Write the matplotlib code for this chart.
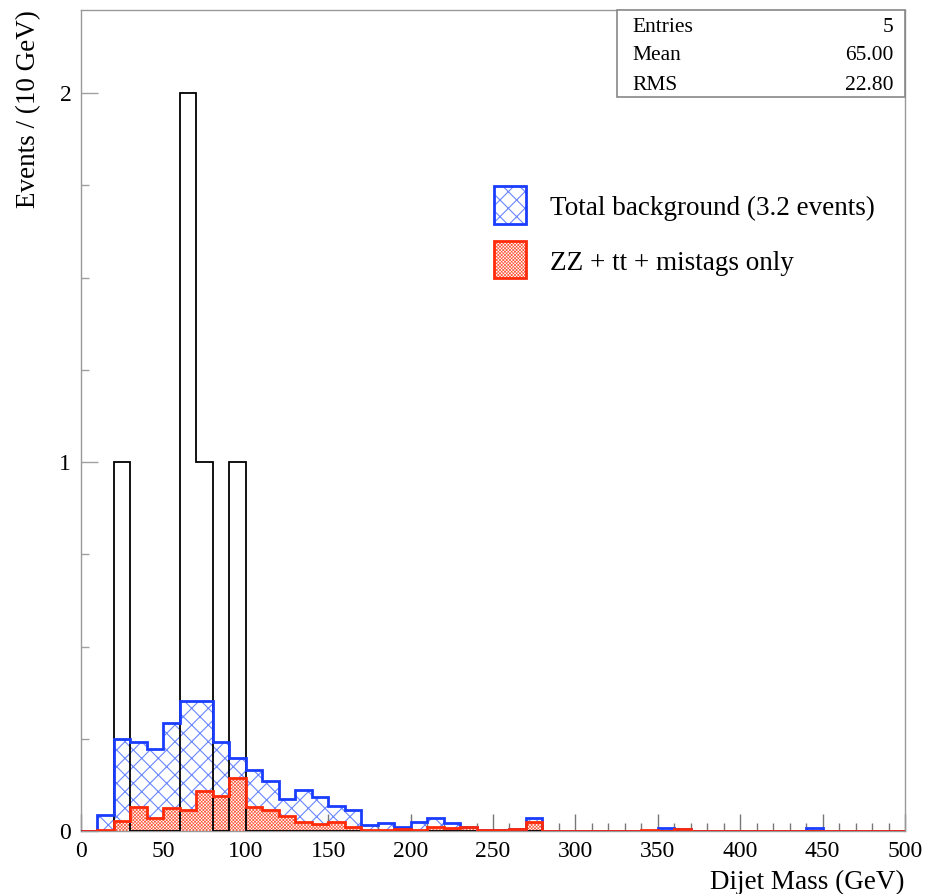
import numpy as np
import matplotlib
matplotlib.use("Agg")
import matplotlib.pyplot as plt
from matplotlib.patches import Rectangle

plt.rcParams['font.family'] = ['Liberation Serif', 'DejaVu Serif']

# bin edges: 50 bins of 10 GeV from 0 to 500
edges = np.arange(0, 510, 10)

# observed events per bin (5 entries)
data_bins = {20: 1, 60: 2, 70: 1, 90: 1}

# total background, bins starting at 10 GeV
total_bkg_lo = 10
total_bkg = [0.043, 0.249, 0.242, 0.221, 0.293, 0.352, 0.352, 0.241, 0.197,
             0.165, 0.136, 0.086, 0.111, 0.093, 0.068, 0.058, 0.016, 0.021,
             0.012, 0.024, 0.034, 0.021, 0.012, 0.003, 0.003, 0.006, 0.034]
total_bkg_extra = {350: 0.009, 360: 0.005, 440: 0.009}

# ZZ + tt + mistags, bins starting at 10 GeV
zz_lo = 10
zz_tt = [0.002, 0.027, 0.066, 0.036, 0.061, 0.057, 0.109, 0.096, 0.143,
         0.065, 0.057, 0.041, 0.024, 0.018, 0.025, 0.012, 0.004, 0.002,
         0.005, 0.003, 0.012, 0.008, 0.012, 0.003, 0.003, 0.006, 0.025]
zz_extra = {340: 0.002, 360: 0.005}

stats_labels = ['Entries', 'Mean', 'RMS']
stats_values = ['5', '65.00', '22.80']


def fill_bins(lo, vals, extra):
    h = np.zeros(len(edges) - 1)
    i0 = lo // 10
    h[i0:i0 + len(vals)] = vals
    for k, v in extra.items():
        h[k // 10] = v
    return h


h_data = fill_bins(0, [], data_bins)
h_bkg = fill_bins(total_bkg_lo, total_bkg, total_bkg_extra)
h_zz = fill_bins(zz_lo, zz_tt, zz_extra)

blue = '#1a3cff'
blue_h = '#6a86ff'
red = '#ff2a0a'
red_h = '#ff5a3c'
blue_hatch = 'xx'
red_hatch = 'x' * 10

fig = plt.figure(figsize=(9.25, 8.94), dpi=100)
ax = fig.add_axes([81 / 925, 1 - 831 / 894, 824 / 925, 821 / 894])

plt.rcParams['hatch.linewidth'] = 0.8
ax.stairs(h_bkg, edges, fill=True, facecolor='white', edgecolor=blue_h,
          hatch=blue_hatch, linewidth=0, zorder=1)
plt.rcParams['hatch.linewidth'] = 0.5
ax.stairs(h_zz, edges, fill=True, facecolor='white', edgecolor=red_h,
          hatch=red_hatch, linewidth=0, zorder=2)
ax.stairs(h_data, edges, baseline=0, color='black', linewidth=1.3, zorder=3)
ax.stairs(h_bkg, edges, baseline=0, color=blue, linewidth=2.0, zorder=4)
ax.stairs(h_zz, edges, baseline=0, color=red, linewidth=2.0, zorder=5)

ax.set_xlim(0, 500)
ax.set_ylim(0, 821 / 369)

ax.set_xticks(np.arange(0, 501, 50))
ax.set_xticks(np.arange(0, 501, 10), minor=True)
ax.set_yticks([0, 1, 2])
ax.set_yticks(np.arange(0, 2.01, 0.25), minor=True)
ax.tick_params(which='both', direction='in', top=False, right=False,
               color='#777777', labelsize=17)
ax.tick_params(which='major', length=12, width=1, pad=7)
ax.tick_params(which='minor', length=6, width=1)
ax.tick_params(axis='y', which='both', color='#a0a0a0')

for s in ax.spines.values():
    s.set_color('#999999')
    s.set_linewidth(1.0)

ax.set_xlabel('Dijet Mass (GeV)', loc='right', fontsize=19.5, labelpad=6)
ax.set_ylabel('Events / (10 GeV)', loc='top', fontsize=19.5, labelpad=13)


# legend, drawn by hand
def ax_x(px):
    return (px - 81) / 824


def ax_y(py):
    return (831 - py) / 821


plt.rcParams['hatch.linewidth'] = 0.8
ax.add_patch(Rectangle((ax_x(494), ax_y(224)), 32 / 824, 38 / 821,
                       transform=ax.transAxes, facecolor='white',
                       edgecolor=blue_h, hatch=blue_hatch, linewidth=0,
                       zorder=6))
plt.rcParams['hatch.linewidth'] = 0.5
ax.add_patch(Rectangle((ax_x(494), ax_y(278)), 32 / 824, 37 / 821,
                       transform=ax.transAxes, facecolor='white',
                       edgecolor=red_h, hatch=red_hatch, linewidth=0,
                       zorder=6))
ax.add_patch(Rectangle((ax_x(494), ax_y(224)), 32 / 824, 38 / 821,
                       transform=ax.transAxes, facecolor='none',
                       edgecolor=blue, linewidth=2, zorder=7))
ax.add_patch(Rectangle((ax_x(494), ax_y(278)), 32 / 824, 37 / 821,
                       transform=ax.transAxes, facecolor='none',
                       edgecolor=red, linewidth=2, zorder=7))
ax.text(ax_x(550), ax_y(208), 'Total background (3.2 events)',
        transform=ax.transAxes, fontsize=19.5, va='center', ha='left')
ax.text(ax_x(550), ax_y(263), 'ZZ + tt + mistags only',
        transform=ax.transAxes, fontsize=19.5, va='center', ha='left')

# stats box
ax.add_patch(Rectangle((ax_x(617), ax_y(97)), (905 - 617) / 824, 87 / 821,
                       transform=ax.transAxes, facecolor='white',
                       edgecolor='#888888', linewidth=1.2, zorder=8,
                       clip_on=False))
for i, (lab, val) in enumerate(zip(stats_labels, stats_values)):
    yy = ax_y(27 + 29 * i)
    ax.text(ax_x(632), yy, lab, transform=ax.transAxes, fontsize=15.5,
            va='center', ha='left', zorder=9)
    ax.text(ax_x(893), yy, val, transform=ax.transAxes, fontsize=15.5,
            va='center', ha='right', zorder=9)

fig.savefig('out.png', dpi=100)
